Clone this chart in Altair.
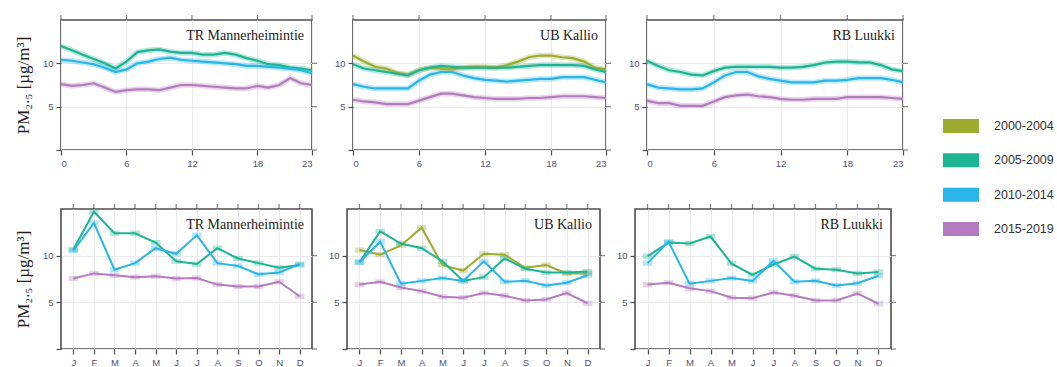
import altair as alt
import pandas as pd

series = ["2000-2004", "2005-2009", "2010-2014", "2015-2019"]
colors = ["#9bad2f", "#1db493", "#29b5e8", "#b47cbe"]
hours = list(range(24))
months = ["Jan", "Feb", "Mar", "Apr", "May", "Jun", "Jul", "Aug", "Sep", "Oct", "Nov", "Dec"]
hour_ticks = [0, 6, 12, 18, 23]
y_ticks = [0, 5, 10]
stations = ["TR Mannerheimintie", "UB Kallio", "RB Luukki"]
y_title = "PM₂.₅ [µg/m³]"

# hourly (diurnal) means
tr_h_0509 = [12.0, 11.5, 11.0, 10.5, 10.0, 9.4, 10.2, 11.3, 11.5, 11.6, 11.35, 11.2, 11.2, 11.0, 11.0, 11.2, 11.0, 10.6, 10.3, 9.9, 9.8, 9.5, 9.4, 9.2]
tr_h_1014 = [10.4, 10.3, 10.1, 9.9, 9.5, 9.0, 9.3, 10.0, 10.2, 10.5, 10.65, 10.4, 10.3, 10.2, 10.1, 10.0, 9.9, 9.7, 9.7, 9.6, 9.5, 9.4, 9.2, 8.85]
tr_h_1519 = [7.6, 7.4, 7.5, 7.7, 7.2, 6.7, 6.9, 7.0, 7.0, 6.9, 7.2, 7.5, 7.5, 7.4, 7.3, 7.2, 7.1, 7.1, 7.4, 7.2, 7.5, 8.3, 7.7, 7.5]

ub_h_0004 = [10.9, 10.2, 9.6, 9.4, 8.9, 8.7, 9.2, 9.5, 9.4, 9.3, 9.5, 9.6, 9.6, 9.5, 9.8, 10.2, 10.7, 10.9, 10.9, 10.7, 10.6, 10.2, 9.5, 9.3]
ub_h_0509 = [9.9, 9.4, 9.2, 9.0, 8.8, 8.6, 9.2, 9.5, 9.7, 9.6, 9.5, 9.5, 9.5, 9.5, 9.5, 9.6, 9.7, 9.8, 9.8, 9.8, 9.8, 9.7, 9.3, 9.0]
ub_h_1014 = [7.6, 7.3, 7.1, 7.1, 7.1, 7.1, 8.0, 8.7, 9.0, 9.0, 8.6, 8.3, 8.1, 8.0, 7.9, 8.0, 8.1, 8.2, 8.2, 8.4, 8.4, 8.4, 8.1, 7.8]
ub_h_1519 = [5.8, 5.6, 5.5, 5.3, 5.3, 5.3, 5.7, 6.1, 6.5, 6.5, 6.3, 6.1, 6.0, 5.9, 5.9, 5.9, 6.0, 6.0, 6.1, 6.2, 6.2, 6.2, 6.1, 6.0]

rb_h_0509 = [10.3, 9.7, 9.2, 9.0, 8.7, 8.6, 9.1, 9.5, 9.6, 9.6, 9.6, 9.6, 9.5, 9.5, 9.6, 9.8, 10.1, 10.2, 10.2, 10.1, 10.1, 9.8, 9.3, 9.1]
rb_h_1014 = [7.6, 7.2, 7.1, 7.0, 7.0, 7.1, 7.8, 8.6, 9.0, 9.0, 8.5, 8.2, 8.0, 7.8, 7.8, 7.8, 8.0, 8.0, 8.1, 8.3, 8.3, 8.3, 8.1, 7.8]
rb_h_1519 = [5.7, 5.4, 5.4, 5.1, 5.1, 5.1, 5.6, 6.1, 6.3, 6.4, 6.2, 6.1, 5.9, 5.8, 5.8, 5.9, 5.9, 5.9, 6.1, 6.1, 6.1, 6.1, 6.0, 5.9]

# monthly means
tr_m_0509 = [10.65, 14.7, 12.4, 12.4, 11.4, 9.4, 9.1, 10.8, 9.7, 9.2, 8.7, 9.0]
tr_m_1014 = [10.55, 13.5, 8.5, 9.2, 10.8, 10.2, 12.2, 9.2, 8.9, 8.0, 8.2, 9.1]
tr_m_1519 = [7.55, 8.1, 7.9, 7.7, 7.8, 7.55, 7.6, 6.9, 6.7, 6.7, 7.2, 5.65]

ub_m_0004 = [10.6, 10.1, 11.1, 13.0, 9.0, 8.4, 10.2, 10.1, 8.7, 9.0, 8.1, 8.1]
ub_m_0509 = [9.3, 12.6, 11.3, 10.8, 9.4, 7.3, 7.7, 9.7, 8.6, 8.2, 8.2, 8.3]
ub_m_1014 = [9.3, 11.5, 7.0, 7.3, 7.6, 7.3, 9.4, 7.2, 7.3, 6.8, 7.1, 7.9]
ub_m_1519 = [6.9, 7.2, 6.6, 6.2, 5.6, 5.5, 6.0, 5.7, 5.2, 5.3, 6.0, 4.9]

rb_m_0509 = [9.95, 11.4, 11.3, 12.05, 9.15, 7.95, 9.05, 9.9, 8.6, 8.5, 8.1, 8.25]
rb_m_1014 = [9.2, 11.5, 7.0, 7.3, 7.6, 7.3, 9.45, 7.2, 7.3, 6.8, 7.05, 7.85]
rb_m_1519 = [6.9, 7.1, 6.5, 6.2, 5.5, 5.45, 6.05, 5.7, 5.2, 5.2, 5.95, 4.85]

hourly = {
    "TR Mannerheimintie": {"2005-2009": tr_h_0509, "2010-2014": tr_h_1014, "2015-2019": tr_h_1519},
    "UB Kallio": {"2000-2004": ub_h_0004, "2005-2009": ub_h_0509, "2010-2014": ub_h_1014, "2015-2019": ub_h_1519},
    "RB Luukki": {"2005-2009": rb_h_0509, "2010-2014": rb_h_1014, "2015-2019": rb_h_1519},
}
monthly = {
    "TR Mannerheimintie": {"2005-2009": tr_m_0509, "2010-2014": tr_m_1014, "2015-2019": tr_m_1519},
    "UB Kallio": {"2000-2004": ub_m_0004, "2005-2009": ub_m_0509, "2010-2014": ub_m_1014, "2015-2019": ub_m_1519},
    "RB Luukki": {"2005-2009": rb_m_0509, "2010-2014": rb_m_1014, "2015-2019": rb_m_1519},
}

FRAME = "#4d4d4d"
LABEL = "#505070"
GRID = "#e9e9ee"

cscale = alt.Scale(domain=series, range=colors)
yscale = alt.Scale(domain=[0, 15], nice=False, zero=True)


def long_df(d, xvals):
    rows = []
    for s in series:
        if s in d:
            for xv, v in zip(xvals, d[s]):
                rows.append({"x": xv, "series": s, "value": v})
    return pd.DataFrame(rows)


def panel(station, d, kind, width, height, show_ytitle):
    if kind == "hour":
        df = long_df(d, hours)
        xscale = alt.Scale(domain=[0, 23], nice=False, zero=False)
        xt = "x:Q"
        bottom_axis = alt.Axis(values=hour_ticks, grid=True, title=None, format="d")
        tick_df = pd.DataFrame({"x": hour_ticks})
    else:
        df = long_df(d, months)
        xscale = alt.Scale(domain=months, type="point", padding=0.6)
        xt = "x:O"
        bottom_axis = alt.Axis(grid=True, title=None, labelAngle=0,
                               labelExpr="substring(datum.label, 0, 1)")
        tick_df = pd.DataFrame({"x": months})

    left_axis = alt.Axis(values=y_ticks, grid=True, title=y_title if show_ytitle else None,
                         labelExpr="datum.value == 0 ? '' : datum.label")
    X = alt.X(xt, scale=xscale, axis=bottom_axis, sort=None)
    Y = alt.Y("value:Q", scale=yscale, axis=left_axis)

    base = alt.Chart(df).encode(
        x=X, y=Y,
        color=alt.Color("series:N", scale=cscale, legend=None),
    )
    if kind == "hour":
        layers = [
            base.mark_line(strokeWidth=5.5, opacity=0.3),
            base.mark_line(strokeWidth=2.2),
        ]
    else:
        layers = [
            base.mark_point(shape="M-1,-0.55H1V0.55H-1Z", filled=True, size=90, opacity=0.35),
            base.mark_line(strokeWidth=2),
        ]

    # mirrored tick marks on the top and right edges of the frame
    top_ticks = alt.Chart(tick_df).mark_tick(orient="vertical", size=5, thickness=1.2, color=FRAME).encode(
        x=X, y=alt.value(-2.5)
    )
    right_ticks = alt.Chart(pd.DataFrame({"value": y_ticks})).mark_tick(
        orient="horizontal", size=5, thickness=1.2, color=FRAME
    ).encode(y=Y, x=alt.value(width + 2.5))

    label = alt.Chart(pd.DataFrame({"name": [station]})).mark_text(
        align="right", baseline="middle", font="Liberation Serif", fontSize=14, color="#222222"
    ).encode(text="name:N", x=alt.value(width - 8), y=alt.value(16))

    return alt.layer(*layers, top_ticks, right_ticks, label).properties(width=width, height=height)


widths = [251, 253, 256]
top_row = alt.hconcat(
    *[panel(s, hourly[s], "hour", w, 130, i == 0) for i, (s, w) in enumerate(zip(stations, widths))],
    spacing=9,
)
bottom_row = alt.hconcat(
    *[panel(s, monthly[s], "month", w, 140, i == 0) for i, (s, w) in enumerate(zip(stations, widths))],
    spacing=9,
)
grid = alt.vconcat(top_row, bottom_row, spacing=34)

# legend drawn as its own small chart
legend_df = pd.DataFrame({"series": series})
leg_y = alt.Y("series:N", scale=alt.Scale(domain=series, type="point", range=[106, 209], padding=0), axis=None)
legend_chart = alt.layer(
    alt.Chart(legend_df).mark_point(shape="M-1,-0.39H1V0.39H-1Z", filled=True, size=1296, opacity=1).encode(
        y=leg_y, x=alt.value(31),
        color=alt.Color("series:N", scale=cscale, legend=None),
    ),
    alt.Chart(legend_df).mark_text(align="left", baseline="middle", font="Liberation Sans",
                                   fontSize=12.5, color="#333333").encode(
        y=leg_y, x=alt.value(64), text="series:N"
    ),
).properties(width=110, height=330, view=alt.ViewBackground(stroke=None))

chart = alt.hconcat(grid, legend_chart, spacing=15).properties(
    padding={"left": 13, "top": 14, "right": 0, "bottom": 0}
).configure_view(
    stroke=FRAME, strokeWidth=1.6
).configure_axis(
    domain=False, tickColor=FRAME, tickSize=5, tickWidth=1.2,
    labelFont="Liberation Sans", labelFontSize=9.5, labelColor=LABEL, labelPadding=3,
    gridColor=GRID, gridWidth=1,
    titleFont="Liberation Serif", titleFontSize=17, titleFontWeight="normal", titleColor="#222222",
    titlePadding=10,
)

chart.save("out.html", embed_options={"renderer": "svg", "actions": False})
